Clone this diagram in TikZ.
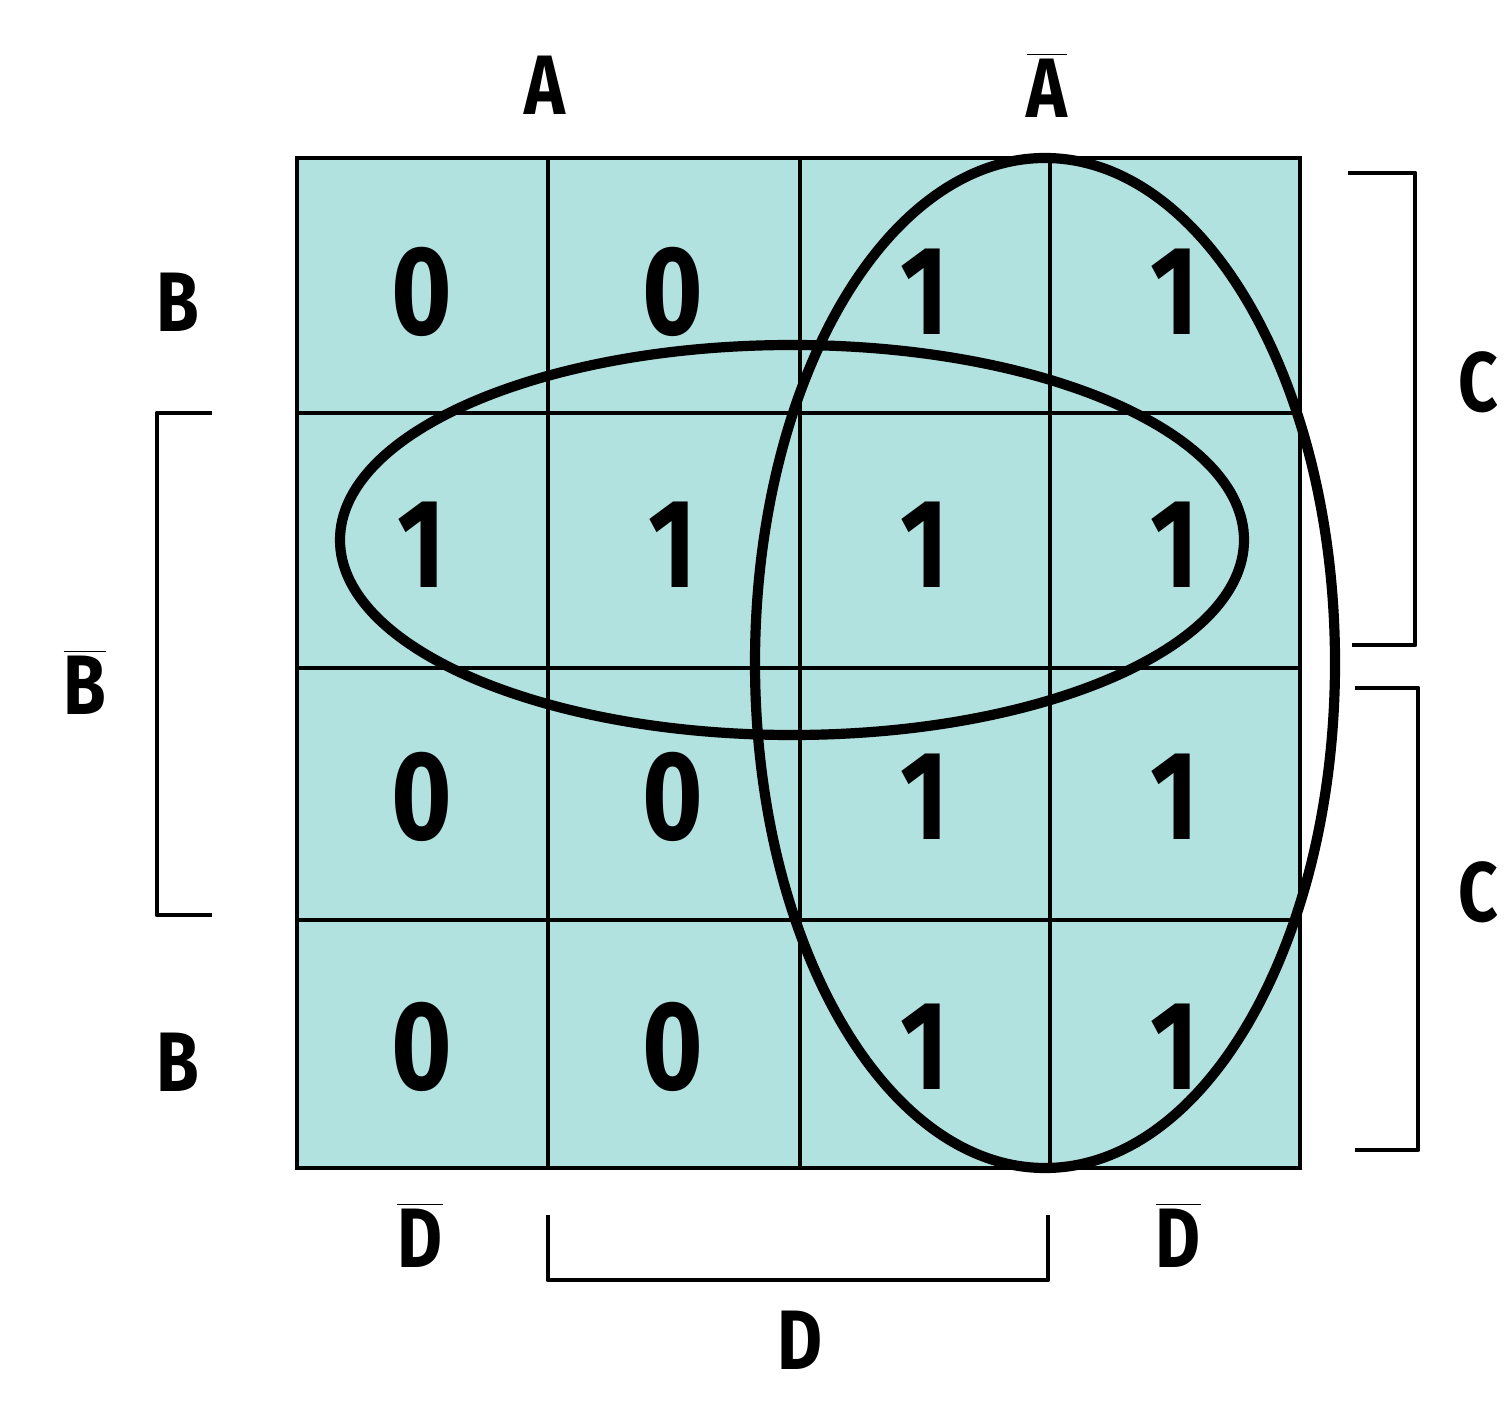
\documentclass[tikz,border=0pt]{standalone}
\usepackage{fontspec}
\setmainfont{Fira Sans}[FakeStretch=0.82]
\definecolor{mapfill}{RGB}{178,226,224}
\tikzset{
  cellnum/.style={font=\fontsize{36}{36}\selectfont\bfseries},
  maplabel/.style={font=\fontsize{24}{24}\selectfont\bfseries, inner sep=1pt},
  gridline/.style={line width=1.1pt},
  loopline/.style={line width=2.9pt},
  bracketline/.style={line width=1.4pt, line join=round}
}
\begin{document}
\begin{tikzpicture}[x=1cm,y=-1cm]
        \useasboundingbox (0,0) rectangle (15.07,14.01);
        % the map
        \fill[mapfill] (2.97,1.58) rectangle (13.00,11.68);
        \draw[gridline] (5.48,1.58) -- (5.48,11.68); \draw[gridline] (8.00,1.58) -- (8.00,11.68);
        \draw[gridline] (10.50,1.58) -- (10.50,11.68);
        \draw[gridline] (2.97,4.13) -- (13.00,4.13); \draw[gridline] (2.97,6.68) -- (13.00,6.68);
        \draw[gridline] (2.97,9.20) -- (13.00,9.20);
        \draw[gridline] (2.97,1.58) rectangle (13.00,11.68);
        % cell values
        \node[cellnum] (c11) at (4.22,2.92) {0}; \node[cellnum] (c12) at (6.73,2.92) {0};
        \node[cellnum] (c13) at (9.25,2.92) {1}; \node[cellnum] (c14) at (11.75,2.92) {1};
        \node[cellnum] (c21) at (4.22,5.45) {1}; \node[cellnum] (c22) at (6.73,5.45) {1};
        \node[cellnum] (c23) at (9.25,5.45) {1}; \node[cellnum] (c24) at (11.75,5.45) {1};
        \node[cellnum] (c31) at (4.22,7.97) {0}; \node[cellnum] (c32) at (6.73,7.97) {0};
        \node[cellnum] (c33) at (9.25,7.97) {1}; \node[cellnum] (c34) at (11.75,7.97) {1};
        \node[cellnum] (c41) at (4.22,10.47) {0}; \node[cellnum] (c42) at (6.73,10.47) {0};
        \node[cellnum] (c43) at (9.25,10.47) {1}; \node[cellnum] (c44) at (11.75,10.47) {1};
        % groups
        \draw[loopline] (7.92,5.40) ellipse (4.52 and 1.95);
        \draw[loopline] (10.45,6.63) ellipse (2.90 and 5.05);
        % variable labels
        \node[maplabel] (la) at (5.45,0.85) {A};
        \node[maplabel] (lna) at (10.47,0.85) {$\overline{\mbox{A}}$};
        \node[maplabel] (lb1) at (1.78,3.02) {B};
        \node[maplabel] (lnb) at (0.85,6.82) {$\overline{\mbox{B}}$};
        \node[maplabel] (lb2) at (1.78,10.62) {B};
        \node[maplabel] (lc1) at (14.78,3.82) {C};
        \node[maplabel] (lc2) at (14.78,8.92) {C};
        \node[maplabel] (lnd1) at (4.20,12.35) {$\overline{\mbox{D}}$};
        \node[maplabel] (lnd2) at (11.78,12.35) {$\overline{\mbox{D}}$};
        \node[maplabel] (ld) at (8.00,13.40) {D};
        % brackets
        \draw[bracketline] (2.12,4.13) -- (1.57,4.13) -- (1.57,9.15) -- (2.12,9.15);
        \draw[bracketline] (13.48,1.73) -- (14.15,1.73) -- (14.15,6.45) -- (13.52,6.45);
        \draw[bracketline] (13.55,6.88) -- (14.18,6.88) -- (14.18,11.50) -- (13.55,11.50);
        \draw[bracketline] (5.48,12.15) -- (5.48,12.80) -- (10.48,12.80) -- (10.48,12.15);
    \end{tikzpicture}
\end{document}
